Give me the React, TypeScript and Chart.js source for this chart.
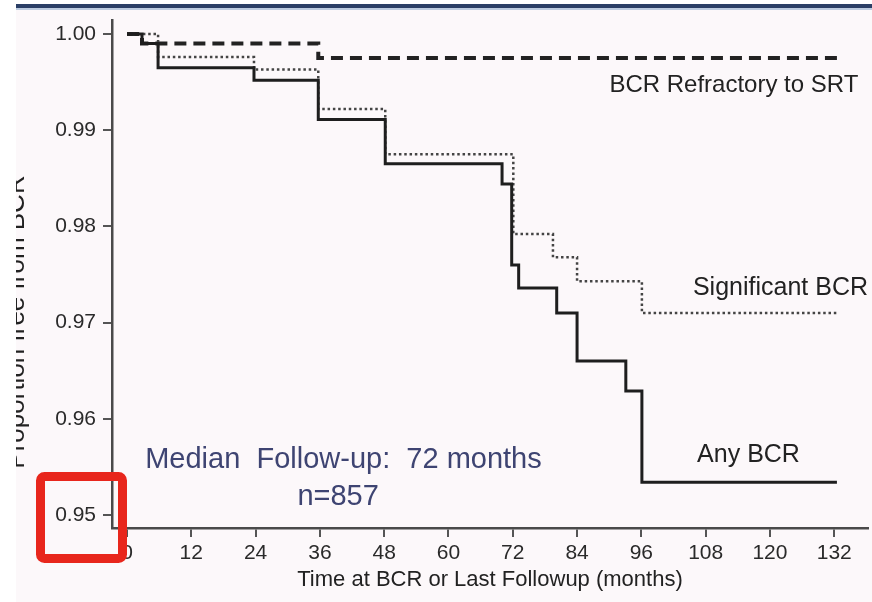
import React, { useEffect, useRef } from "react";
import { Chart, registerables } from "chart.js";

Chart.register(...registerables);

// ---- data ----
const xTickValues = [0, 12, 24, 36, 48, 60, 72, 84, 96, 108, 120, 132];
const yTickValues = [0.95, 0.96, 0.97, 0.98, 0.99, 1.0];

const anyTimes = [0, 2.8, 5.8, 23.7, 35.7, 48.2, 70.0, 71.8, 73.1, 80.2, 84.0, 93.1, 96.1, 132.5];
const anyValues = [1.0, 0.999, 0.9965, 0.9952, 0.9911, 0.9865, 0.9844, 0.976, 0.9736, 0.971, 0.966, 0.9629, 0.9534, 0.9534];

const significantTimes = [0, 5.8, 23.7, 35.7, 48.2, 72.1, 79.5, 84.0, 96.1, 132.5];
const significantValues = [1.0, 0.9976, 0.9963, 0.9922, 0.9875, 0.9792, 0.9768, 0.9743, 0.971, 0.971];

const refractoryTimes = [0, 2.8, 35.7, 132.5];
const refractoryValues = [1.0, 0.999, 0.9975, 0.9975];

const refractoryLabel = "BCR Refractory to SRT";
const significantLabel = "Significant BCR";
const anyLabel = "Any BCR";
const medianLabel = "Median  Follow-up:  72 months";
const nLabel = "n=857";
const xTitle = "Time at BCR or Last Followup (months)";
const yTitle = "Proportion free from BCR";

const FONT = '"Liberation Sans", Arial, Helvetica, sans-serif';

const toPoints = (t: number[], v: number[]) => t.map((x, i) => ({ x, y: v[i] }));

const decor = {
  id: "decor",
  beforeDraw(chart: any) {
    const { ctx, width, height } = chart;
    ctx.save();
    ctx.fillStyle = "#fcf8fa";
    ctx.fillRect(0, 0, width, height);
    ctx.restore();
  },
  afterDraw(chart: any) {
    const { ctx, width, height } = chart;
    const xs = chart.scales.x;
    const ys = chart.scales.y;
    const px = (v: number) => xs.getPixelForValue(v);
    const py = (v: number) => ys.getPixelForValue(v);
    ctx.save();
    ctx.textBaseline = "alphabetic";
    ctx.fillStyle = "#222222";
    ctx.font = `24px ${FONT}`;
    ctx.textAlign = "right";
    ctx.fillText(refractoryLabel, px(136.5), py(0.994));
    ctx.font = `25px ${FONT}`;
    ctx.fillText(significantLabel, px(138.3), py(0.9729));
    ctx.textAlign = "center";
    ctx.fillText(anyLabel, px(116), py(0.9555));

    ctx.fillStyle = "#3e4472";
    ctx.font = `29px ${FONT}`;
    ctx.fillText(medianLabel, px(40.4), py(0.9549));
    ctx.fillText(nLabel, px(39.4), py(0.951));

    // y-axis title (cut off at the left edge)
    ctx.save();
    ctx.translate(24, 322);
    ctx.rotate(-Math.PI / 2);
    ctx.font = `26px ${FONT}`;
    ctx.textAlign = "center";
    ctx.fillStyle = "#222222";
    ctx.fillText(yTitle, 0, 0);
    ctx.restore();

    // red highlight box
    ctx.strokeStyle = "#e8261c";
    ctx.lineWidth = 9;
    ctx.lineJoin = "round";
    ctx.beginPath();
    (ctx as any).roundRect(40.5, 476.5, 82, 82, 4);
    ctx.stroke();

    // frame strips
    ctx.fillStyle = "#ffffff";
    ctx.fillRect(0, 0, 16, height);
    ctx.fillRect(0, 0, width, 4);
    ctx.fillStyle = "#2b3f66";
    ctx.fillRect(16, 4, width - 16, 4);
    ctx.fillStyle = "#bccbe0";
    ctx.fillRect(16, 8, width - 16, 2);
    ctx.restore();
  },
};

export default function App() {
  const ref = useRef<HTMLCanvasElement | null>(null);

  useEffect(() => {
    if (!ref.current) return;
    const chart = new Chart(ref.current, {
      type: "line",
      data: {
        datasets: [
          {
            label: anyLabel,
            data: toPoints(anyTimes, anyValues),
            stepped: true,
            borderColor: "#1e1e1e",
            borderWidth: 3,
            pointRadius: 0,
            fill: false,
          },
          {
            label: significantLabel,
            data: toPoints(significantTimes, significantValues),
            stepped: true,
            borderColor: "#444444",
            borderWidth: 2.5,
            borderDash: [2.5, 2.8],
            pointRadius: 0,
            fill: false,
          },
          {
            label: refractoryLabel,
            data: toPoints(refractoryTimes, refractoryValues),
            stepped: true,
            borderColor: "#222222",
            borderWidth: 4,
            borderDash: [12, 7],
            pointRadius: 0,
            fill: false,
          },
        ],
      },
      options: {
        animation: false,
        responsive: false,
        layout: { padding: { left: 0, top: 20, right: 4, bottom: 0 } },
        plugins: { legend: { display: false }, tooltip: { enabled: false } },
        scales: {
          x: {
            type: "linear",
            min: -2.8,
            max: 138.3,
            afterBuildTicks: (s: any) => {
              s.ticks = xTickValues.map((v) => ({ value: v }));
            },
            afterFit: (s: any) => {
              s.height = 74;
            },
            ticks: {
              autoSkip: false,
              maxRotation: 0,
              color: "#2a2a2a",
              padding: 4,
              font: { family: FONT, size: 21 },
              callback: (v: any) => String(v),
            },
            grid: { drawOnChartArea: false, tickLength: 9, color: "#555555", lineWidth: 2 },
            border: { color: "#4a4a4a", width: 2.5 },
            title: {
              display: true,
              text: xTitle,
              color: "#222222",
              font: { family: FONT, size: 22 },
              padding: { top: 0, bottom: 9 },
            },
          },
          y: {
            type: "linear",
            min: 0.94865,
            max: 1.001455,
            afterBuildTicks: (s: any) => {
              s.ticks = yTickValues.map((v) => ({ value: v }));
            },
            afterFit: (s: any) => {
              s.width = 112;
            },
            ticks: {
              color: "#2a2a2a",
              padding: 7,
              font: { family: FONT, size: 21 },
              callback: (v: any) => Number(v).toFixed(2),
            },
            grid: { drawOnChartArea: false, tickLength: 9, color: "#555555", lineWidth: 2 },
            border: { color: "#4a4a4a", width: 2.5 },
          },
        },
      },
      plugins: [decor],
    });
    return () => chart.destroy();
  }, []);

  return (
    <div style={{ position: "fixed", left: 0, top: 0, width: 872, height: 602 }}>
      <canvas ref={ref} width={872} height={602} style={{ display: "block" }} />
    </div>
  );
}
